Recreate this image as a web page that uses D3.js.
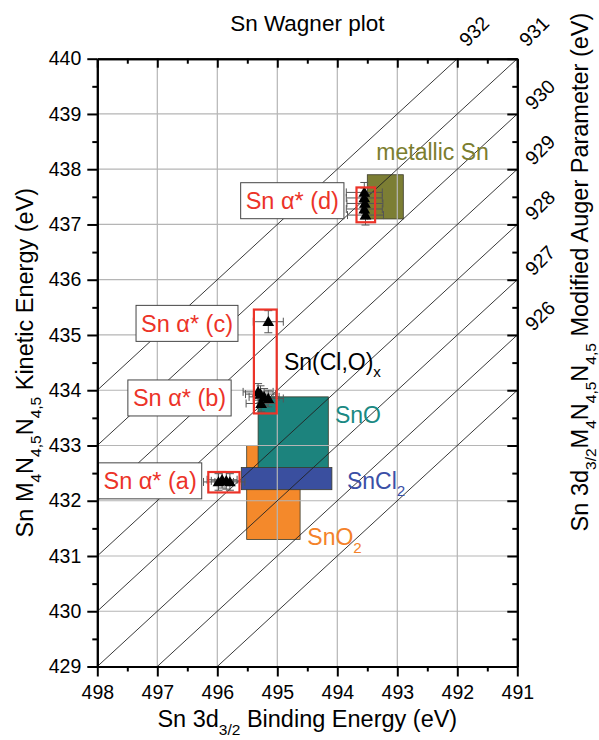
<!DOCTYPE html>
<html>
<head>
<meta charset="utf-8">
<script src="https://cdn.jsdelivr.net/npm/d3@7"></script>
<style>
body{margin:0;background:#fff}
text{font-family:"Liberation Sans",Arial,sans-serif}
</style>
</head>
<body>
<script>
// axis values
var bindingTicks = [498, 497, 496, 495, 494, 493, 492, 491]
var kineticTicks = [429, 430, 431, 432, 433, 434, 435, 436, 437, 438, 439, 440]
var augerLines = [925, 926, 927, 928, 929, 930, 931, 932]
var augerLabels = [926, 927, 928, 929, 930, 931, 932]

// reference compound ranges (binding energy, kinetic energy)
var refNames = ["SnO2", "SnO", "SnCl2", "metallic Sn"]
var refBE = [[495.51, 494.62], [495.32, 494.15], [495.60, 494.09], [493.50, 492.90]]
var refKE = [[431.30, 433.00], [432.30, 433.88], [432.20, 432.60], [437.10, 437.90]]
var refColors = ["#f4892b", "#1c837d", "#3a4f9f", "#7c7e34"]
var refText = ["#f4822a", "#1a8983", "#3b4fa6", "#7b7d2e"]

// measured samples
var samples = ["a", "b", "c", "d"]
var sampleBE = [[495.98, 495.92, 495.85, 495.79],
                [495.32, 495.28, 495.22, 495.15, 495.27],
                [495.15],
                [493.55, 493.55, 493.54, 493.55, 493.53]]
var sampleKE = [[432.34, 432.38, 432.36, 432.34],
                [433.97, 433.93, 433.88, 433.85, 433.76],
                [435.24],
                [437.58, 437.48, 437.38, 437.28, 437.17]]
var sampleErrBE = [0.25, 0.25, 0.25, 0.3]
var sampleErrKE = [0.15, 0.15, 0.2, 0.18]

// highlighted groups
var groupBE = [[496.15, 495.63], [495.39, 495.01], [493.68, 493.37]]
var groupKE = [[432.15, 432.52], [433.58, 435.46], [437.04, 437.67]]

var W = 599, H = 740
var x = d3.scaleLinear().domain([498, 491]).range([97.3, 517.3])
var y = d3.scaleLinear().domain([429, 440]).range([666.5, 58.7])

var svg = d3.select("body").append("svg").attr("width", W).attr("height", H)

svg.append("defs").append("clipPath").attr("id", "plot")
    .append("rect").attr("x", x(498)).attr("y", y(440))
    .attr("width", x(491) - x(498)).attr("height", y(429) - y(440))

function addParts(sel, parts, fs) {
    var down = 0
    parts.forEach(function (p) {
        var shift = p[1] ? fs * 0.32 : 0
        sel.append("tspan").attr("dy", shift - down)
            .attr("font-size", p[1] ? fs * 0.66 : fs).text(p[0])
        down = shift
    })
}

// reference rectangles
var order = [0, 1, 2, 3]
svg.append("g").selectAll("rect").data(order).enter().append("rect")
    .attr("x", function (i) { return x(refBE[i][0]) })
    .attr("width", function (i) { return x(refBE[i][1]) - x(refBE[i][0]) })
    .attr("y", function (i) { return y(refKE[i][1]) })
    .attr("height", function (i) { return y(refKE[i][0]) - y(refKE[i][1]) })
    .attr("fill", function (i) { return refColors[i] })
    .attr("stroke", "#3a3a2a").attr("stroke-width", 0.8)

// grid
var grid = svg.append("g").attr("stroke", "#b5b5b5").attr("stroke-width", 1.2)
grid.selectAll(".vx").data(bindingTicks.slice(1, -1)).enter().append("line")
    .attr("x1", function (d) { return x(d) }).attr("x2", function (d) { return x(d) })
    .attr("y1", y(440)).attr("y2", y(429))
grid.selectAll(".hy").data(kineticTicks.slice(1, -1)).enter().append("line")
    .attr("y1", function (d) { return y(d) }).attr("y2", function (d) { return y(d) })
    .attr("x1", x(498)).attr("x2", x(491))

// constant Auger parameter lines
svg.append("g").attr("clip-path", "url(#plot)").selectAll("line").data(augerLines).enter().append("line")
    .attr("x1", x(498)).attr("y1", function (s) { return y(s - 498) })
    .attr("x2", x(491)).attr("y2", function (s) { return y(s - 491) })
    .attr("stroke", "#222").attr("stroke-width", 0.9)

svg.append("g").selectAll("text").data(augerLabels).enter().append("text")
    .attr("font-size", 19.5)
    .attr("transform", function (s) {
        var px, py
        if (s - 491 < 440) { px = x(491) + 16; py = y(s - 491) - 3 }
        else { px = x(s - 440) + 10; py = y(440) - 11 }
        return "translate(" + px + "," + py + ") rotate(-45)"
    })
    .text(function (s) { return s })

// reference labels
var refLabelBE = [494.50, 494.04, 493.84, 493.35]
var refLabelKE = [431.19, 433.40, 432.21, 438.16]
var refParts = [[["SnO"], ["2", 1]], [["SnO"]], [["SnCl"], ["2", 1]], [["metallic Sn"]]]
order.forEach(function (i) {
    var t = svg.append("text").attr("x", x(refLabelBE[i])).attr("y", y(refLabelKE[i]))
        .attr("fill", refText[i]).attr("font-size", 23)
    addParts(t, refParts[i], 23)
})
var mixed = svg.append("text").attr("x", x(494.89)).attr("y", y(434.37)).attr("font-size", 23).attr("fill", "#000")
addParts(mixed, [["Sn(Cl,O)"], ["x", 1]], 23)

// sample label boxes
var boxBE = [497.12, 496.63, 496.505, 494.75]
var boxKE = [432.36, 433.86, 435.21, 437.43]
samples.forEach(function (s, i) {
    var g = svg.append("g").attr("transform", "translate(" + x(boxBE[i]) + "," + y(boxKE[i]) + ")")
    var r = g.append("rect").attr("fill", "#fff").attr("stroke", "#444").attr("stroke-width", 1)
    var t = g.append("text").attr("text-anchor", "middle").attr("dy", "0.36em")
        .attr("font-size", 23.5).attr("fill", "#ec3328").text("Sn \u03b1* (" + s + ")")
    var w = t.node().getComputedTextLength() + 10
    r.attr("x", -w / 2).attr("y", -18).attr("width", w).attr("height", 36)
})

// error bars and points
var pts = []
samples.forEach(function (s, i) {
    sampleBE[i].forEach(function (be, j) {
        pts.push({be: be, ke: sampleKE[i][j], ebe: sampleErrBE[i], eke: sampleErrKE[i]})
    })
})
var eb = svg.append("g").attr("stroke", "#555").attr("stroke-width", 1)
pts.forEach(function (p) {
    eb.append("line").attr("x1", x(p.be + p.ebe)).attr("x2", x(p.be - p.ebe)).attr("y1", y(p.ke)).attr("y2", y(p.ke))
    eb.append("line").attr("x1", x(p.be)).attr("x2", x(p.be)).attr("y1", y(p.ke + p.eke)).attr("y2", y(p.ke - p.eke))
    ;[p.be + p.ebe, p.be - p.ebe].forEach(function (v) {
        eb.append("line").attr("x1", x(v)).attr("x2", x(v)).attr("y1", y(p.ke) - 4).attr("y2", y(p.ke) + 4)
    })
    ;[p.ke + p.eke, p.ke - p.eke].forEach(function (v) {
        eb.append("line").attr("x1", x(p.be) - 4).attr("x2", x(p.be) + 4).attr("y1", y(v)).attr("y2", y(v))
    })
})
svg.append("g").selectAll("path").data(pts).enter().append("path")
    .attr("d", d3.symbol(d3.symbolTriangle, 60))
    .attr("transform", function (p) { return "translate(" + x(p.be) + "," + (y(p.ke) + 1) + ")" })
    .attr("fill", "#000")

// red group frames
svg.append("g").selectAll("rect").data(groupBE).enter().append("rect")
    .attr("x", function (d) { return x(d[0]) })
    .attr("width", function (d) { return x(d[1]) - x(d[0]) })
    .attr("y", function (d, i) { return y(groupKE[i][1]) })
    .attr("height", function (d, i) { return y(groupKE[i][0]) - y(groupKE[i][1]) })
    .attr("fill", "none").attr("stroke", "#ec3328").attr("stroke-width", 2.2)

// axes
var halfX = d3.range(497.5, 491, -1)
var halfY = d3.range(429.5, 440, 1)
function styleAxis(g) {
    g.selectAll("path,line").attr("stroke", "#000").attr("stroke-width", 2)
    g.selectAll("text").attr("font-size", 19.5).attr("fill", "#000").attr("font-family", "Liberation Sans, Arial, sans-serif")
}
svg.append("g").attr("transform", "translate(0," + y(429) + ")")
    .call(d3.axisBottom(x).tickValues(bindingTicks).tickFormat(d3.format("d")).tickSize(10).tickPadding(9).tickSizeOuter(0)).call(styleAxis)
svg.append("g").attr("transform", "translate(0," + y(429) + ")")
    .call(d3.axisBottom(x).tickValues(halfX).tickFormat("").tickSize(5).tickSizeOuter(0)).call(styleAxis)
svg.append("g").attr("transform", "translate(0," + y(440) + ")")
    .call(d3.axisTop(x).tickValues(bindingTicks).tickFormat("").tickSize(-9).tickSizeOuter(0)).call(styleAxis)
svg.append("g").attr("transform", "translate(0," + y(440) + ")")
    .call(d3.axisTop(x).tickValues(halfX).tickFormat("").tickSize(-5).tickSizeOuter(0)).call(styleAxis)
svg.append("g").attr("transform", "translate(" + x(498) + ",0)")
    .call(d3.axisLeft(y).tickValues(kineticTicks).tickFormat(d3.format("d")).tickSize(10).tickPadding(6).tickSizeOuter(0)).call(styleAxis)
svg.append("g").attr("transform", "translate(" + x(498) + ",0)")
    .call(d3.axisLeft(y).tickValues(halfY).tickFormat("").tickSize(5).tickSizeOuter(0)).call(styleAxis)
svg.append("g").attr("transform", "translate(" + x(491) + ",0)")
    .call(d3.axisRight(y).tickValues(kineticTicks).tickFormat("").tickSize(-10).tickSizeOuter(0)).call(styleAxis)
svg.append("g").attr("transform", "translate(" + x(491) + ",0)")
    .call(d3.axisRight(y).tickValues(halfY).tickFormat("").tickSize(-5).tickSizeOuter(0)).call(styleAxis)

// titles
svg.append("text").attr("x", (x(498) + x(491)) / 2).attr("y", 31).attr("text-anchor", "middle")
    .attr("font-size", 22.5).text("Sn Wagner plot")

var xt = svg.append("text").attr("x", (x(498) + x(491)) / 2).attr("y", 727).attr("text-anchor", "middle").attr("font-size", 23.5)
addParts(xt, [["Sn 3d"], ["3/2", 1], [" Binding Energy (eV)"]], 23.5)

var yt = svg.append("text").attr("transform", "translate(33," + (y(429) + y(440)) / 2 + ") rotate(-90)")
    .attr("text-anchor", "middle").attr("font-size", 23.5)
addParts(yt, [["Sn M"], ["4", 1], ["N"], ["4,5", 1], ["N"], ["4,5", 1], [" Kinetic Energy (eV)"]], 23.5)

var rt = svg.append("text").attr("transform", "translate(588,272) rotate(-90)")
    .attr("text-anchor", "middle").attr("font-size", 23.5)
addParts(rt, [["Sn 3d"], ["3/2", 1], ["M"], ["4", 1], ["N"], ["4,5", 1], ["N"], ["4,5", 1], [" Modified Auger Parameter (eV)"]], 23.5)
</script>
</body>
</html>
